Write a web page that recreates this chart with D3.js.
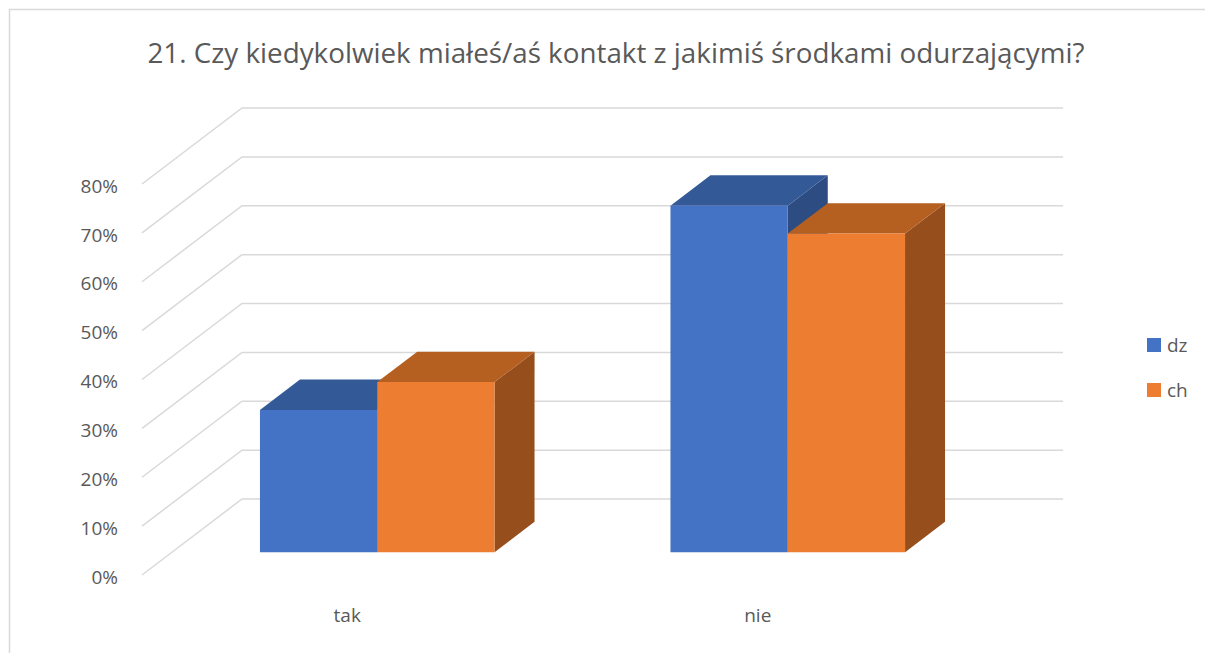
<!DOCTYPE html>
<html>
<head>
<meta charset="utf-8">
<script src="https://cdn.jsdelivr.net/npm/d3@7"></script>
<style>
  body { margin: 0; background: #fff; }
  text { font-family: "Open Sans", "Noto Sans", sans-serif; fill: #595959; }
</style>
</head>
<body>
<svg id="chart"></svg>
<script>
var title = "21. Czy kiedykolwiek miałeś/aś kontakt z jakimiś środkami odurzającymi?";
var categories = ["tak", "nie"];
var seriesNames = ["dz", "ch"];
var dzValues = [0.291, 0.709];
var chValues = [0.348, 0.652];
var yTicks = [0, 0.1, 0.2, 0.3, 0.4, 0.5, 0.6, 0.7, 0.8];

var width = 1205, height = 653;
var svg = d3.select("#chart").attr("width", width).attr("height", height);

// oblique 3d: depth 0 = front of floor, 1 = back wall
var DX = 100, DY = 76;
var barDepth = [0.3, 0.7];

var colors = {
    dz: { front: "#4472C4", top: "#335A97", side: "#2D4C82" },
    ch: { front: "#ED7D31", top: "#B55F21", side: "#974E1D" }
};

var y = d3.scaleLinear().domain([0, 0.8]).range([575, 184]);
var x = d3.scaleBand().domain(categories).range([142, 963]).paddingInner(0);
var xs = d3.scaleBand().domain(seriesNames).range([0, x.bandwidth()])
    .paddingInner(0).paddingOuter(0.75);

function pt(px, v, d) {
    return [px + d * DX, y(v) - d * DY];
}

// border
svg.append("path")
    .attr("d", "M9.5,653 V9.5 H1205")
    .attr("fill", "none")
    .attr("stroke", "#D9D9D9")
    .attr("stroke-width", 1.5);

// gridlines: side wall + back wall
var grid = svg.append("g").attr("stroke", "#D9D9D9").attr("stroke-width", 1.5).attr("fill", "none");
yTicks.forEach(function (t) {
    var a = pt(142, t, 0), b = pt(142, t, 1), c = pt(963, t, 1);
    grid.append("path").attr("d", "M" + a + "L" + b + "L" + c);
});

// y labels
svg.append("g").selectAll("text")
    .data(yTicks)
    .enter().append("text")
    .attr("x", 118)
    .attr("y", function (d) { return y(d) + 2; })
    .attr("dy", "0.35em")
    .attr("text-anchor", "end")
    .attr("font-size", 19)
    .text(function (d) { return d3.format(".0%")(d); });

// bars
var bars = [];
categories.forEach(function (c, i) {
    bars.push({ cat: c, s: "dz", v: dzValues[i] });
    bars.push({ cat: c, s: "ch", v: chValues[i] });
});

var barG = svg.append("g");
bars.forEach(function (b) {
    var x0 = x(b.cat) + xs(b.s), x1 = x0 + xs.bandwidth();
    var d0 = barDepth[0], d1 = barDepth[1];
    var g = barG.append("g");
    // front
    var f = [pt(x0, 0, d0), pt(x1, 0, d0), pt(x1, b.v, d0), pt(x0, b.v, d0)];
    // top
    var t = [pt(x0, b.v, d0), pt(x1, b.v, d0), pt(x1, b.v, d1), pt(x0, b.v, d1)];
    // right side
    var s = [pt(x1, 0, d0), pt(x1, 0, d1), pt(x1, b.v, d1), pt(x1, b.v, d0)];
    g.append("polygon").attr("points", s.join(" ")).attr("fill", colors[b.s].side);
    g.append("polygon").attr("points", t.join(" ")).attr("fill", colors[b.s].top);
    g.append("polygon").attr("points", f.join(" ")).attr("fill", colors[b.s].front);
});

// category labels
svg.append("g").selectAll("text")
    .data(categories)
    .enter().append("text")
    .attr("x", function (d) { return x(d) + x.bandwidth() / 2; })
    .attr("y", 622)
    .attr("text-anchor", "middle")
    .attr("font-size", 19)
    .text(function (d) { return d; });

// title
svg.append("text")
    .attr("x", 616)
    .attr("y", 63)
    .attr("text-anchor", "middle")
    .attr("font-size", 27.8)
    .text(title);

// legend
var legend = svg.append("g").selectAll("g")
    .data(seriesNames)
    .enter().append("g")
    .attr("transform", function (d, i) { return "translate(1147," + (338 + i * 45) + ")"; });
legend.append("rect").attr("width", 14).attr("height", 14)
    .attr("fill", function (d) { return colors[d].front; });
legend.append("text").attr("x", 20).attr("y", 14).attr("font-size", 19)
    .text(function (d) { return d; });
</script>
</body>
</html>
